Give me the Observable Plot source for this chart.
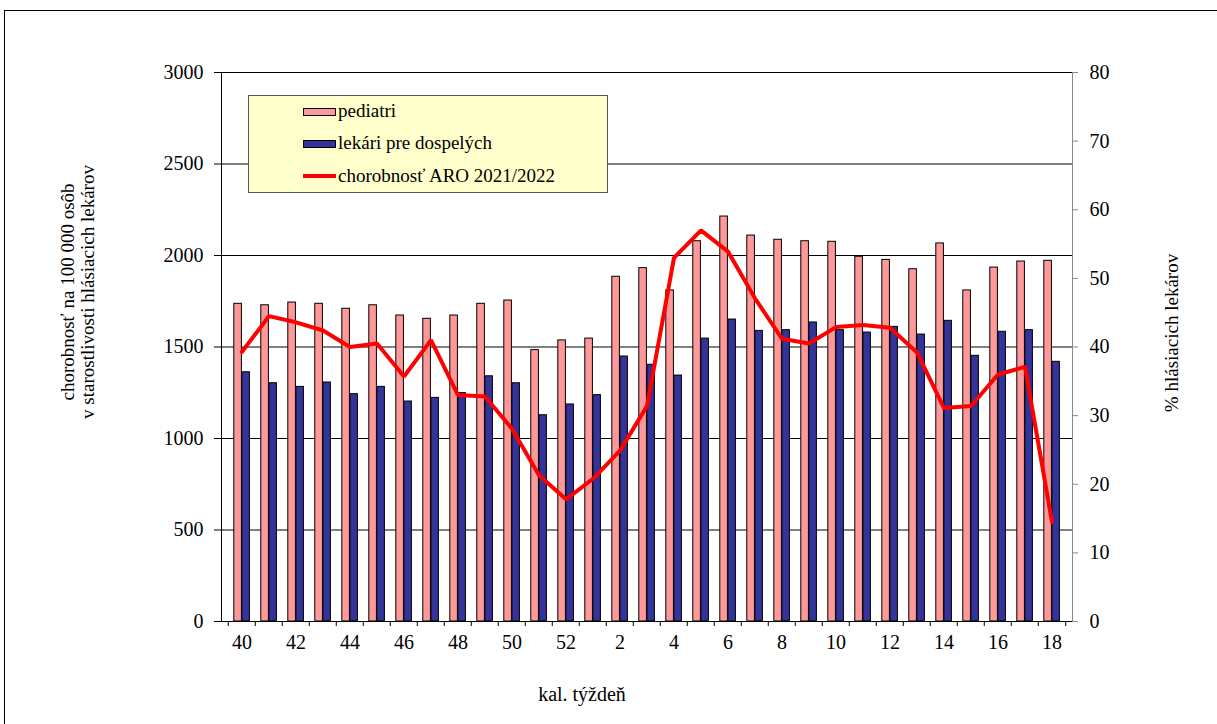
<!DOCTYPE html>
<html>
<head>
<meta charset="utf-8">
<script src="https://cdn.jsdelivr.net/npm/d3@7"></script>
<script src="https://cdn.jsdelivr.net/npm/@observablehq/plot@0.6"></script>
<style>
  html, body { margin: 0; padding: 0; background: #fff; }
  #chart { position: relative; width: 1217px; height: 724px; overflow: hidden; }
  #chart svg, #chart svg text { font-family: 'Liberation Serif', 'Times New Roman', serif !important; }
</style>
</head>
<body>
<div id="chart"></div>
<script>
// ---- data ----
const weeks = ["40","41","42","43","44","45","46","47","48","49","50","51","52",
               "1","2","3","4","5","6","7","8","9","10","11","12","13","14","15","16","17","18"];
const pediatri = [1736,1728,1743,1736,1709,1728,1672,1654,1672,1736,1754,1483,1536,
                  1546,1884,1931,1809,2078,2213,2109,2086,2078,2075,1993,1976,1925,2066,1809,1934,1967,1971];
const dospeli  = [1362,1302,1282,1306,1242,1282,1202,1222,1248,1340,1302,1127,1186,
                  1237,1448,1403,1344,1546,1650,1588,1592,1634,1592,1579,1610,1568,1643,1452,1583,1592,1419];
const aro      = [39.3,44.5,43.6,42.4,40.0,40.5,35.7,41.0,33.0,32.8,28.1,21.3,17.8,
                  20.8,24.9,31.4,53.0,57.0,53.9,47.1,41.2,40.5,42.9,43.2,42.8,39.2,31.1,31.4,36.0,37.1,14.5];
const leftTicks  = [0,500,1000,1500,2000,2500,3000];
const rightTicks = [0,10,20,30,40,50,60,70,80];
const seriesNames = ["pediatri", "lekári pre dospelých", "chorobnosť ARO 2021/2022"];
const xTitle = "kal. týždeň";
const yTitleLines = ["chorobnosť na 100 000 osôb", "v starostlivosti hlásiacich lekárov"];
const y2Title = "% hlásiacich lekárov";

// ---- build ----
const FONT = "Liberation Serif";
const K = 3000 / 80; // right axis -> left axis
const data = weeks.map((w, i) => ({week: w, ped: pediatri[i], dos: dospeli[i], aro: aro[i] * K}));

const W = 1217, H = 724, mL = 221, mR = 145, mT = 72, mB = 103;
const bw = (W - mL - mR) / weeks.length;
const tickLen = 5 * 3000 / (H - mT - mB);

const svg = Plot.plot({
  width: W, height: H,
  marginLeft: mL, marginRight: mR, marginTop: mT, marginBottom: mB,
  style: {fontFamily: FONT, fontSize: "20px", color: "#000", background: "transparent"},
  x: {type: "band", domain: weeks, padding: 0},
  y: {domain: [0, 3000]},
  marks: [
    Plot.gridY(leftTicks.slice(1), {stroke: "#000", strokeOpacity: 1}),
    Plot.barY(data, {x: "week", y: "ped", fill: "#ff9999", stroke: "#000", strokeWidth: 1, insetLeft: 5.8, insetRight: 13.6}),
    Plot.barY(data, {x: "week", y: "dos", fill: "#333399", stroke: "#000", strokeWidth: 1, insetLeft: 13.9, insetRight: 5.6}),
    Plot.line(data, {x: "week", y: "aro", stroke: "#ff0000", strokeWidth: 4, strokeLinejoin: "miter"}),
    Plot.frame({anchor: "left", stroke: "#000"}),
    Plot.frame({anchor: "right", stroke: "#888"}),
    Plot.ruleY([0], {stroke: "#000"}),
    Plot.ruleX(weeks, {x: d => d, dx: -bw / 2, y1: 0, y2: -tickLen, stroke: "#000"}),
    Plot.ruleX(weeks.slice(-1), {x: d => d, dx: bw / 2, y1: 0, y2: -tickLen, stroke: "#000"}),
    Plot.axisY(leftTicks, {anchor: "left", tickSize: 7, tickPadding: 11, label: null, tickFormat: d => String(d)}),
    Plot.axisY(rightTicks.map(d => d * K), {anchor: "right", tickSize: 5, tickPadding: 12, stroke: "#888", fill: "#000",
      tickFormat: d => String(Math.round(d / K)), label: null}),
    Plot.axisX(weeks.filter((d, i) => i % 2 === 0), {anchor: "bottom", tickSize: 0, tickPadding: 13, label: null})
  ]
});

document.getElementById("chart").appendChild(svg);

const s = d3.select(svg);
// outer border
s.append("rect").attr("x", 4.5).attr("y", 10.5).attr("width", 1400).attr("height", 900)
  .attr("fill", "none").attr("stroke", "#000").attr("stroke-width", 1);

// axis titles
const t = s.append("g").attr("font-size", "19px").attr("fill", "#000").attr("text-anchor", "middle");
t.append("text").attr("x", 582).attr("y", 701).attr("font-size", "20px").text(xTitle);
yTitleLines.forEach((line, i) => {
  t.append("text").attr("transform", `translate(${74 + i * 20},292) rotate(-90)`).text(line);
});
t.append("text").attr("transform", "translate(1178,333) rotate(-90)").text(y2Title);

// legend
const lg = s.append("g").attr("font-size", "19px").attr("text-anchor", "start");
lg.append("rect").attr("x", 248.5).attr("y", 95.5).attr("width", 359).attr("height", 97)
  .attr("fill", "#ffffcc").attr("stroke", "#555");
const ly = [117, 149, 182];
lg.append("rect").attr("x", 303.5).attr("y", 108.5).attr("width", 32).attr("height", 7)
  .attr("fill", "#ff9999").attr("stroke", "#000");
lg.append("rect").attr("x", 303.5).attr("y", 140.5).attr("width", 32).attr("height", 7)
  .attr("fill", "#333399").attr("stroke", "#000");
lg.append("line").attr("x1", 303).attr("x2", 336).attr("y1", 176).attr("y2", 176)
  .attr("stroke", "#ff0000").attr("stroke-width", 4);
seriesNames.forEach((n, i) => {
  lg.append("text").attr("x", 338).attr("y", ly[i]).attr("fill", "#000").text(n);
});
</script>
</body>
</html>
